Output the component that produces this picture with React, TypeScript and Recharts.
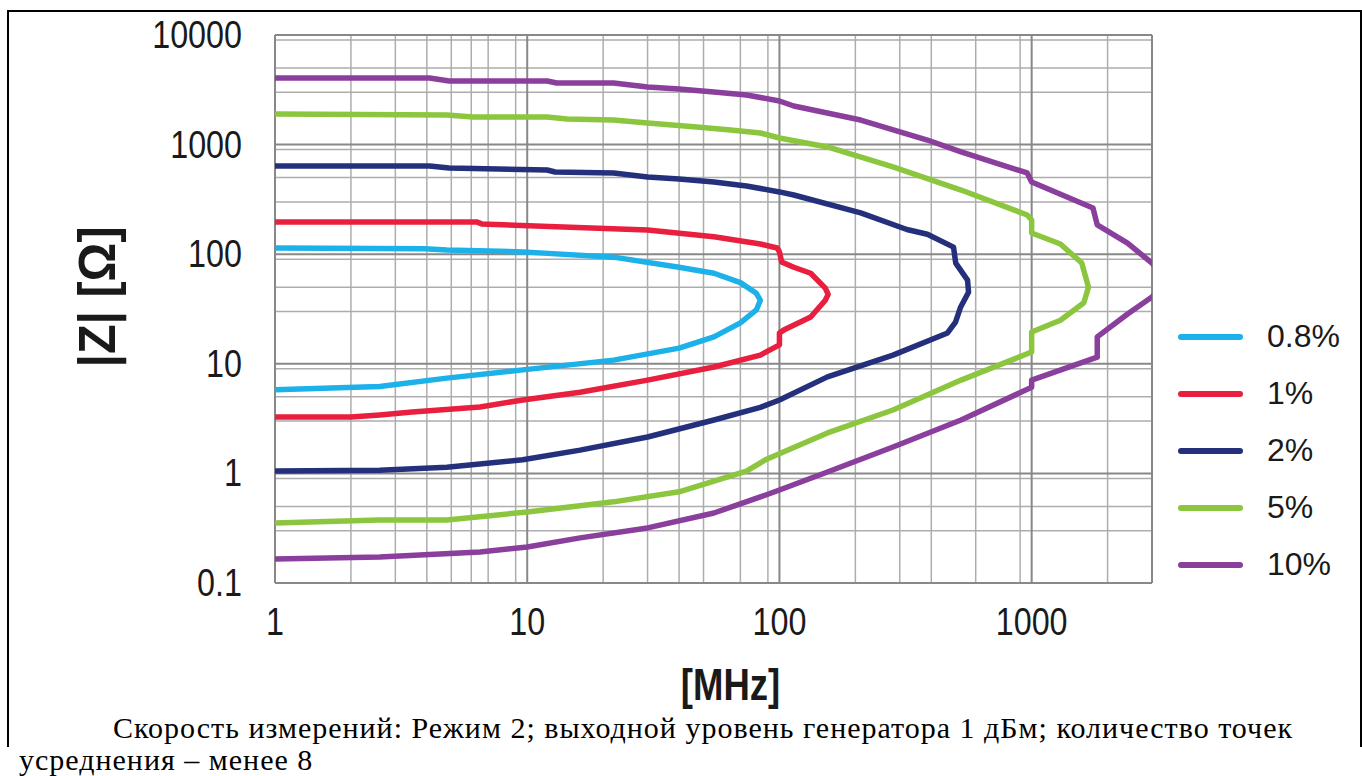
import React from 'react'
import { LineChart, Line, XAxis, YAxis, CartesianGrid, Legend } from 'recharts'

// Each contour runs along its upper edge out to the tip, then back along the lower edge.
// Frequencies in MHz, impedance magnitude in ohms.
const freq08 = [1, 3.9, 4.8, 9.6, 22, 40, 55, 70, 81, 84, 81, 70, 55, 40, 22, 9.6, 4.8, 2.6, 1]
const z08 = [114, 112, 109, 105, 94, 76, 67, 55, 44, 38, 31, 23.6, 17.6, 13.9, 10.8, 8.8, 7.4, 6.2, 5.8]

const freq1 = [1, 6.3, 6.6, 13.9, 30, 55, 84, 98, 100, 102, 114, 133, 152, 156, 152, 133, 104, 100, 100, 84, 55, 30, 16.2, 9.6, 6.5, 3.5, 2.6, 2, 1]
const z1 = [197, 197, 189, 177, 166, 144, 124, 114, 105, 85, 76, 67, 49, 43, 38, 26.7, 20.3, 19.1, 14.9, 12.0, 9.35, 7.1, 5.5, 4.68, 4.04, 3.63, 3.41, 3.27, 3.27]

const freq2 = [1, 4.1, 4.9, 12, 12.9, 22, 30, 40, 55, 74, 100, 114, 210, 320, 386, 490, 500, 557, 562, 523, 499, 464, 282, 155, 100, 84, 55, 30, 16.2, 9.6, 4.8, 2.6, 1]
const z2 = [638, 638, 612, 586, 562, 551, 506, 485, 456, 419, 370, 347, 238, 168, 152, 116, 83, 58, 45, 33, 24, 19.1, 12.0, 7.6, 4.68, 4.0, 3.07, 2.15, 1.63, 1.33, 1.14, 1.07, 1.05]

const freq5 = [1, 4.8, 6.1, 12, 14.4, 22, 30, 47, 64, 84, 100, 155, 282, 525, 960, 1000, 1000, 1300, 1580, 1680, 1610, 1300, 1000, 1000, 525, 282, 155, 88, 74, 40, 22, 10, 4.8, 2.6, 1]
const z5 = [1900, 1862, 1786, 1786, 1714, 1676, 1574, 1449, 1359, 1276, 1148, 951, 625, 385, 228, 205, 156, 124, 83, 50, 36, 25, 19.5, 12.8, 7.1, 3.79, 2.34, 1.33, 1.05, 0.68, 0.55, 0.445, 0.376, 0.376, 0.352]

const freq10 = [1, 4.1, 4.9, 12, 13.1, 22, 30, 40, 55, 74, 100, 114, 210, 386, 525, 960, 1000, 1750, 1820, 2400, 3000, 3400, 3000, 2400, 1820, 1820, 1000, 1000, 525, 282, 155, 100, 84, 55, 30, 16.2, 10, 6.5, 2.6, 1]
const z10 = [4055, 4055, 3802, 3802, 3648, 3648, 3357, 3215, 3020, 2837, 2500, 2250, 1676, 1101, 857, 551, 456, 264, 185, 126, 83, 58, 40.7, 28.5, 17.6, 11.5, 7.1, 6.1, 3.07, 1.74, 1.03, 0.706, 0.61, 0.435, 0.318, 0.258, 0.213, 0.192, 0.173, 0.166]

const seriesNames = ['0.8%', '1%', '2%', '5%', '10%']
const seriesColors = ['#1cb1e8', '#e81f3e', '#24307c', '#8cc63f', '#8a3f9d']

const xTicks = [1, 10, 100, 1000]
const yTicks = [0.1, 1, 10, 100, 1000, 10000]

const toPoints = (f: number[], z: number[]) => f.map((v, i) => ({ f: v, z: z[i] }))

const series = [
  toPoints(freq08, z08),
  toPoints(freq1, z1),
  toPoints(freq2, z2),
  toPoints(freq5, z5),
  toPoints(freq10, z10),
]

// minor grid: 2..9 within every decade
const steps = [2, 3, 4, 5, 6, 7, 8, 9]
const xMinor = xTicks.flatMap(d => steps.map(m => m * d)).filter(v => v <= 3000)
const yMinor = [0.1, 1, 10, 100, 1000].flatMap(d => steps.map(m => m * d))

const SANS = "'Liberation Sans', Arial, sans-serif"
const INK = '#1a1a1a'

// condensed look: squeeze glyphs horizontally around the anchor point
const XTick = ({ x, y, payload }: any) => (
  <text
    transform={`translate(${x},${y + 52}) scale(0.85,1)`}
    textAnchor="middle"
    fill={INK}
    fontFamily={SANS}
    fontSize={38}
  >
    {payload.value}
  </text>
)

const YTick = ({ x, y, payload }: any) => (
  <text
    transform={`translate(${x - 33},${y + 13}) scale(0.85,1)`}
    textAnchor="end"
    fill={INK}
    fontFamily={SANS}
    fontSize={38}
  >
    {payload.value}
  </text>
)

const YLabel = ({ viewBox }: any) => {
  const cx = viewBox.x + 97
  const cy = viewBox.y + viewBox.height / 2 - 12
  return (
    <text
      transform={`translate(${cx},${cy}) rotate(-90) scale(0.93,1)`}
      textAnchor="middle"
      dominantBaseline="central"
      fontFamily={SANS}
      fontWeight="bold"
      fontSize={52}
      fill={INK}
    >
      |Z| [Ω]
    </text>
  )
}

const XLabel = ({ viewBox }: any) => (
  <text
    transform={`translate(${viewBox.x + viewBox.width / 2 + 17},${viewBox.y + 117}) scale(0.83,1)`}
    textAnchor="middle"
    fontFamily={SANS}
    fontWeight="bold"
    fontSize={44}
    fill={INK}
  >
    [MHz]
  </text>
)

const LegendContent = ({ payload }: any) => {
  const items = [...(payload || [])].sort(
    (a: any, b: any) => seriesNames.indexOf(a.value) - seriesNames.indexOf(b.value)
  )
  return (
    <div style={{ fontFamily: SANS, fontSize: 32, color: INK }}>
      {items.map((entry: any) => (
        <div key={entry.value} style={{ display: 'flex', alignItems: 'center', height: 57 }}>
          <span
            style={{
              display: 'inline-block',
              width: 65,
              height: 6,
              borderRadius: 3,
              background: entry.color,
              marginRight: 24,
            }}
          />
          <span>{entry.value}</span>
        </div>
      ))}
    </div>
  )
}

export default function App() {
  return (
    <div style={{ position: 'absolute', left: 0, top: 0, width: 1362, height: 776, background: '#fff' }}>
      {/* frame around the figure */}
      <div
        style={{
          position: 'absolute',
          left: 7,
          top: 10,
          width: 1351,
          height: 735,
          borderTop: '2.5px solid #000',
          borderLeft: '2.5px solid #000',
          borderRight: '2.5px solid #000',
        }}
      />
      <div style={{ position: 'absolute', left: 0, top: 0 }}>
        <LineChart width={1362} height={776} margin={{ top: 35, right: 210, bottom: 76, left: 0 }}>
          <CartesianGrid
            horizontalValues={yMinor}
            verticalValues={xMinor}
            stroke="#adadad"
            strokeWidth={1.5}
          />
          <CartesianGrid
            horizontalValues={yTicks}
            verticalValues={[...xTicks, 3000]}
            stroke="#888888"
            strokeWidth={2}
          />
          <XAxis
            dataKey="f"
            type="number"
            scale="log"
            domain={[1, 3000]}
            allowDataOverflow
            ticks={xTicks}
            tick={<XTick />}
            tickSize={0}
            tickMargin={0}
            axisLine={false}
            tickLine={false}
            height={117}
            label={<XLabel />}
          />
          <YAxis
            dataKey="z"
            type="number"
            scale="log"
            domain={[0.1, 10000]}
            allowDataOverflow
            ticks={yTicks}
            tick={<YTick />}
            tickSize={0}
            tickMargin={0}
            axisLine={false}
            tickLine={false}
            width={275}
            label={<YLabel />}
          />
          <Legend
            layout="horizontal"
            align="center"
            verticalAlign="middle"
            content={<LegendContent />}
            wrapperStyle={{ left: 1178, top: 308, width: 180 }}
          />
          {series.map((data, i) => (
            <Line
              key={seriesNames[i]}
              name={seriesNames[i]}
              data={data}
              dataKey="z"
              type="linear"
              stroke={seriesColors[i]}
              strokeWidth={5.5}
              strokeLinejoin="round"
              dot={false}
              activeDot={false}
              isAnimationActive={false}
            />
          ))}
        </LineChart>
      </div>
      <div
        style={{
          position: 'absolute',
          left: 19,
          top: 712,
          width: 1340,
          fontFamily: "'Liberation Serif', 'Times New Roman', serif",
          fontSize: 30,
          lineHeight: '32px',
          letterSpacing: 1,
          color: '#000',
          whiteSpace: 'nowrap',
        }}
      >
        <div style={{ textIndent: 94 }}>
          Скорость измерений: Режим 2; выходной уровень генератора 1 дБм; количество точек
        </div>
        <div>усреднения – менее 8</div>
      </div>
    </div>
  )
}
